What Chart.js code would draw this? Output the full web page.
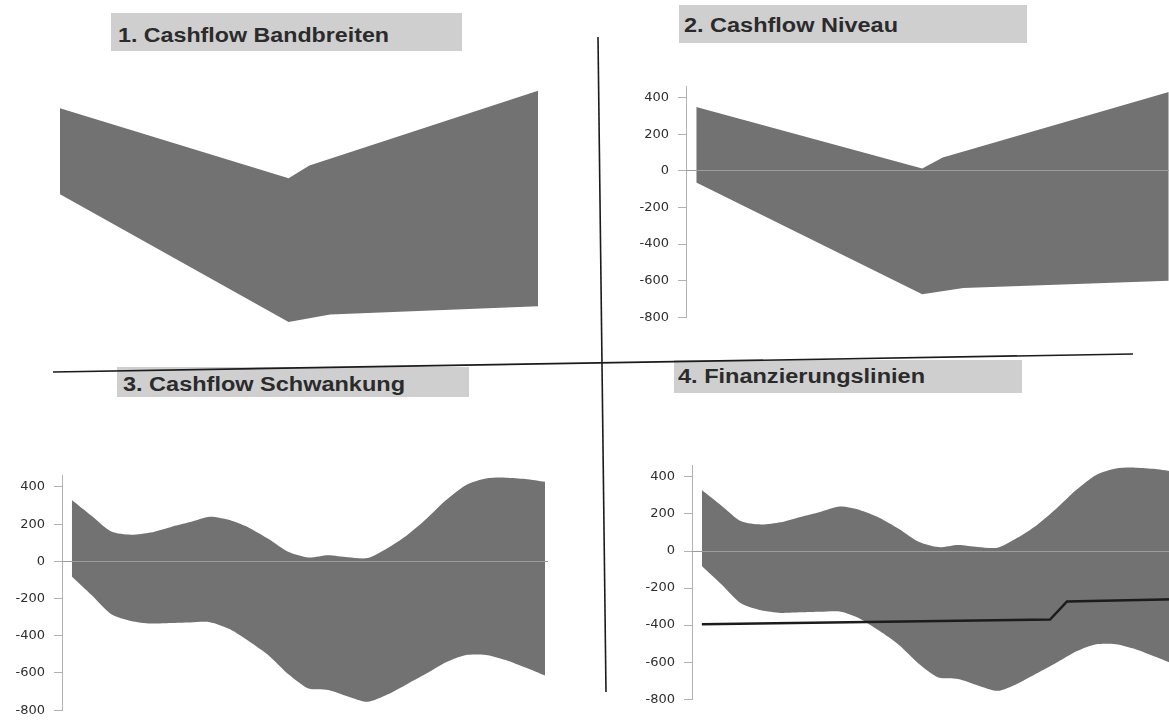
<!DOCTYPE html>
<html lang="de">
<head>
<meta charset="utf-8">
<title>Cashflow</title>
<script src="https://cdn.jsdelivr.net/npm/chart.js@4.4.1/dist/chart.umd.min.js"></script>
<style>
    html, body { margin: 0; padding: 0; background: #fff; overflow: hidden; }
    body { width: 1169px; height: 725px; position: relative; }
    canvas { position: absolute; }
    .titel { position: absolute; background: #cfcfcf; }
    .titel span {
        position: absolute;
        font: bold 20px "Liberation Sans", Arial, sans-serif;
        line-height: 20px;
        color: #2b2b2b;
        white-space: nowrap;
        transform-origin: 0 0;
    }
    svg { position: absolute; left: 0; top: 0; }
</style>
</head>
<body>

<div class="titel" style="left:111px;top:13px;width:351px;height:38px"><span data-w="271" style="left:7px;top:12px">1. Cashflow Bandbreiten</span></div>
<div class="titel" style="left:679px;top:5px;width:348px;height:38px"><span data-w="214" style="left:5px;top:10px">2. Cashflow Niveau</span></div>
<div class="titel" style="left:117px;top:367px;width:352px;height:30px"><span data-w="282" style="left:6px;top:7px">3. Cashflow Schwankung</span></div>
<div class="titel" style="left:674px;top:360px;width:348px;height:33px"><span data-w="247" style="left:4px;top:6px">4. Finanzierungslinien</span></div>

<canvas id="chart1" width="498" height="283" style="left:50px;top:75px"></canvas>
<canvas id="chart2" width="553" height="264" style="left:626px;top:70px"></canvas>
<canvas id="chart3" width="546" height="268" style="left:2px;top:459px"></canvas>
<canvas id="chart4" width="546" height="267" style="left:632px;top:449px"></canvas>

<svg width="1169" height="725">
    <line x1="598" y1="37" x2="606" y2="692" stroke="#1b1b1b" stroke-width="1.6"/>
    <line x1="53" y1="372" x2="1133" y2="354" stroke="#1b1b1b" stroke-width="1.6"/>
</svg>

<script>
// Bandbreite / Niveau (Chart 1 und 2)
const niveauObenX = [0, 11, 12, 23];
const niveauOben = [349, 13, 74, 432];
const niveauUntenX = [0, 11, 13, 23];
const niveauUnten = [-64, -675, -640, -600];

// Schwankung (Chart 3 und 4)
const monate = [0, 1, 2, 3, 4, 5, 6, 7, 8, 9, 10, 11, 12, 13, 14, 15, 16, 17, 18, 19, 20, 21, 22, 23, 24];
const schwankungOben = [330, 245, 160, 143, 155, 184, 211, 240, 222, 180, 119, 50, 21, 33, 22, 18, 71, 141, 231, 331, 411, 446, 450, 443, 428];
const schwankungUnten = [-81, -181, -284, -320, -334, -331, -328, -327, -364, -431, -507, -608, -683, -691, -726, -755, -716, -660, -602, -541, -503, -503, -530, -571, -614];

// Finanzierungslinie (Chart 4)
const linieX = [0, 17.66, 18.52, 24];
const linie = [-395, -370, -272, -260];

const yTicks = [-800, -600, -400, -200, 0, 200, 400];

const bandFarbe = '#727272';

function punkte(xs, ys) {
    return xs.map(function (x, i) { return { x: x, y: ys[i] }; });
}

function bandDatasets(obenX, oben, untenX, unten, spannung) {
    return [
        {
            data: punkte(obenX, oben),
            fill: '+1',
            backgroundColor: bandFarbe,
            borderColor: 'rgba(0,0,0,0)',
            borderWidth: 0,
            pointRadius: 0,
            tension: spannung
        },
        {
            data: punkte(untenX, unten),
            fill: false,
            borderColor: 'rgba(0,0,0,0)',
            borderWidth: 0,
            pointRadius: 0,
            tension: spannung
        }
    ];
}

function yAchse() {
    return {
        min: -800,
        max: 460,
        afterFit: function (s) { s.width = 60; },
        afterBuildTicks: function (s) { s.ticks = yTicks.map(function (v) { return { value: v }; }); },
        grid: { drawOnChartArea: false, drawTicks: true, tickLength: 8, tickColor: '#b2b2b2' },
        border: { display: true, color: '#b2b2b2', width: 1 },
        ticks: { padding: 9, color: '#2e2e2e', font: { family: 'DejaVu Sans', size: 13 } }
    };
}

function xAchse(min, max) {
    return {
        type: 'linear',
        min: min,
        max: max,
        position: { y: 0 },
        ticks: { display: false },
        grid: { display: false },
        border: { display: true, color: '#9c9c9c', width: 1, z: 1 }
    };
}

function createChart(id, datasets, scales, padding) {
    var ctx = document.getElementById(id);
    return new Chart(ctx, {
        type: 'line',
        data: { datasets: datasets },
        options: {
            responsive: false,
            devicePixelRatio: 1,
            animation: false,
            events: [],
            layout: { padding: padding },
            scales: scales,
            plugins: {
                legend: { display: false },
                tooltip: { enabled: false }
            }
        }
    });
}

// 1. Cashflow Bandbreiten: ohne Achsen
createChart('chart1',
    bandDatasets(niveauObenX, niveauOben, niveauUntenX, niveauUnten, 0),
    {
        x: { type: 'linear', display: false, min: 0, max: 23 },
        y: { display: false, min: -800, max: 460 }
    },
    { top: 10, bottom: 10, left: 10, right: 10 });

// 2. Cashflow Niveau
createChart('chart2',
    bandDatasets(niveauObenX, niveauOben, niveauUntenX, niveauUnten, 0),
    { x: xAchse(-0.5, 23.5), y: yAchse() },
    { top: 10, bottom: 10, left: 0, right: 0 });

// 3. Cashflow Schwankung
createChart('chart3',
    bandDatasets(monate, schwankungOben, monate, schwankungUnten, 0.25),
    { x: xAchse(-0.5, 24.15), y: yAchse() },
    { top: 10, bottom: 10, left: 0, right: 0 });

// 4. Finanzierungslinien: Linie oben auf dem Band
var linieDataset = {
    data: punkte(linieX, linie),
    fill: false,
    borderColor: '#1c1c1c',
    borderWidth: 2.5,
    pointRadius: 0,
    tension: 0
};
createChart('chart4',
    [linieDataset].concat(bandDatasets(monate, schwankungOben, monate, schwankungUnten, 0.25)),
    { x: xAchse(-0.5, 24.15), y: yAchse() },
    { top: 10, bottom: 10, left: 0, right: 0 });

// Titel auf die Breite aus der Vorlage strecken
document.querySelectorAll('.titel span').forEach(function (s) {
    const ziel = Number(s.dataset.w);
    const breite = s.getBoundingClientRect().width;
    s.style.transform = 'scaleX(' + (ziel / breite) + ')';
});
</script>
</body>
</html>
